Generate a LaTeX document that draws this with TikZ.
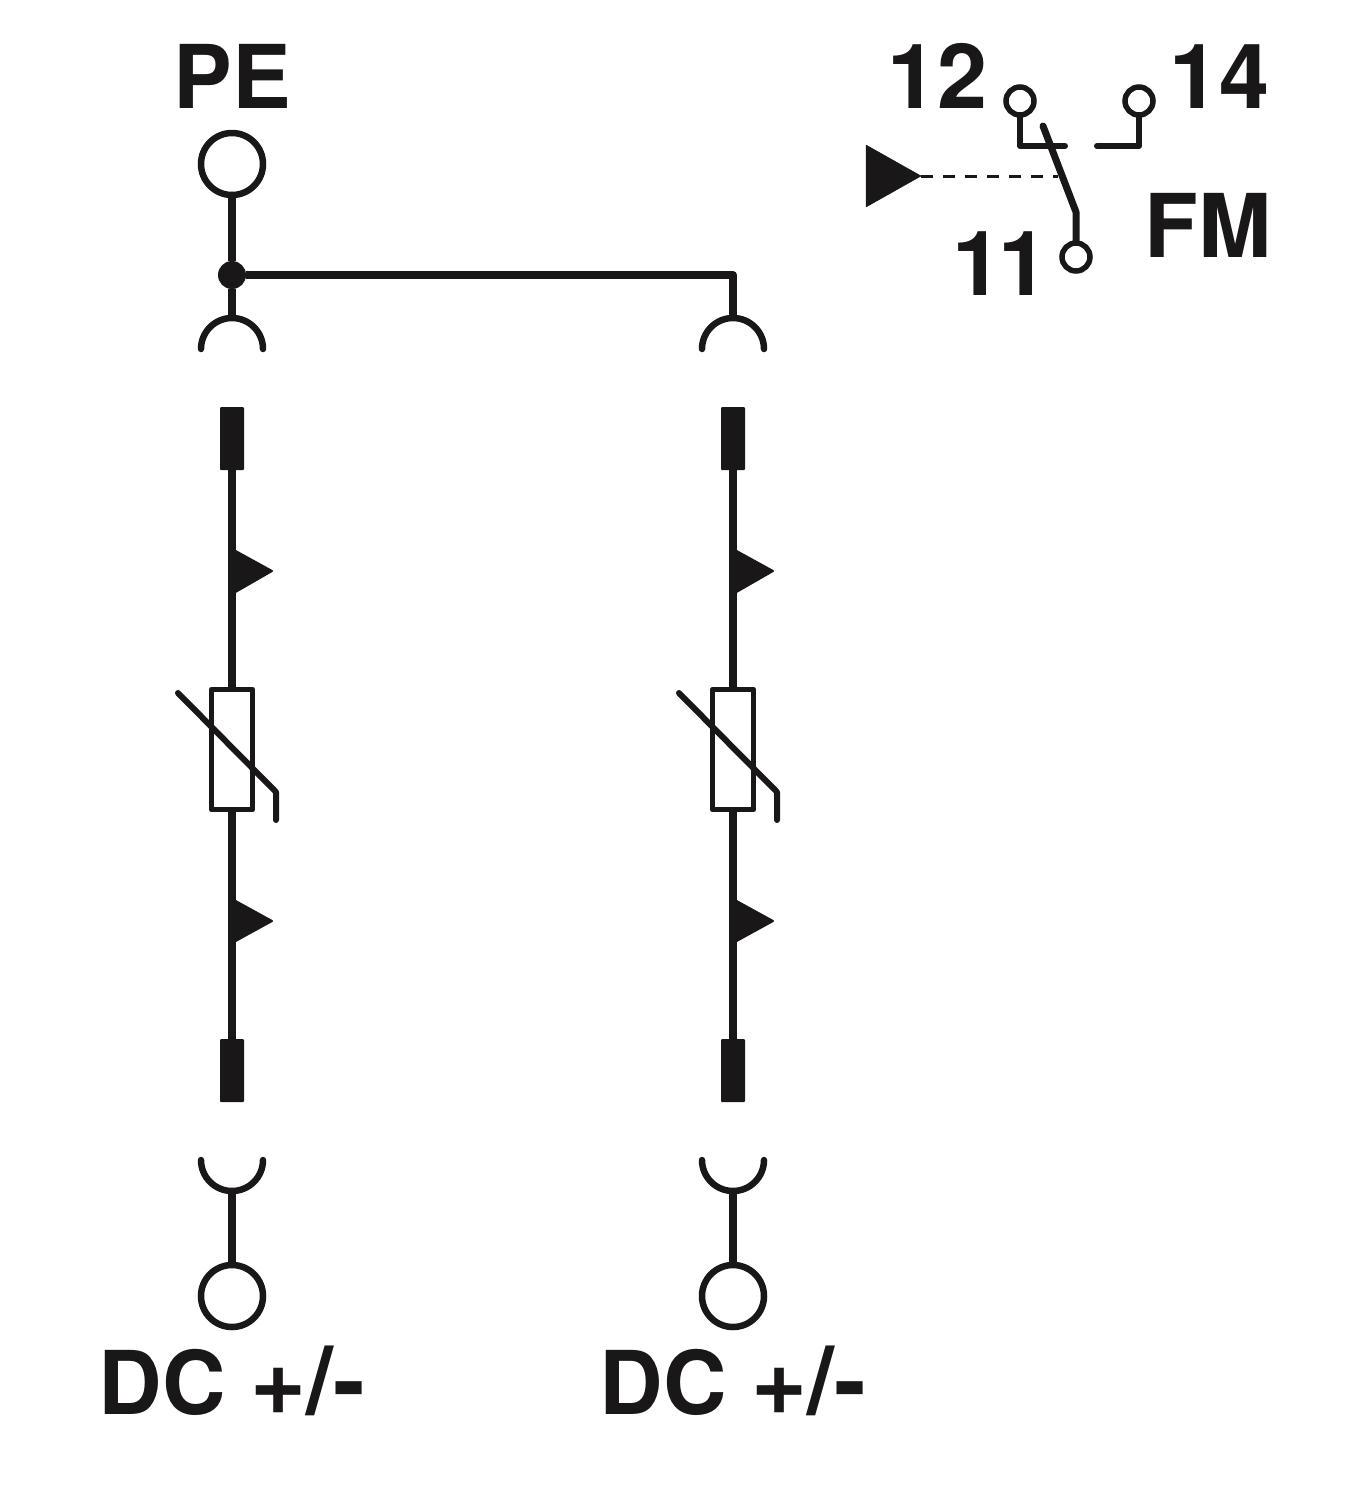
\documentclass[tikz,border=0pt]{standalone}
\usepackage{fontspec}
\setmainfont{TeX Gyre Heros}
\usepackage{tikz}

\definecolor{ink}{HTML}{1A1718}

\tikzset{
  wire/.style={ink, line width=8pt},
  cup/.style={ink, line width=6.5pt, line cap=round},
  thin wire/.style={ink, line width=6pt, line cap=round, line join=round},
  terminal/.style={draw=ink, fill=white, line width=6.5pt, circle, inner sep=0pt, minimum size=62pt},
  contact/.style={draw=ink, fill=white, line width=5.5pt, circle, inner sep=0pt, minimum size=28pt},
  plug/.style={fill=ink, rounded corners=1pt, inner sep=0pt, minimum width=24pt, minimum height=63pt},
  varistor/.style={draw=ink, fill=white, line width=5.5pt, line join=round, inner sep=0pt, minimum width=41pt, minimum height=120pt},
  joint/.style={fill=ink, circle, inner sep=0pt, minimum size=28pt},
  tip/.style={fill=ink, draw=ink, line width=2pt, line join=round},
  lbl/.style={ink, inner sep=0pt, anchor=base, font=\fontsize{88}{88}\selectfont\bfseries},
  num/.style={lbl, font=\fontsize{90}{90}\selectfont\bfseries}
}

\newcommand{\polarity}{DC {\fontsize{96}{96}\selectfont +/-}}

\begin{document}
\begin{tikzpicture}[x=1pt, y=-1pt]
\useasboundingbox (0,0) rectangle (1371,1500);

\node[terminal] (pe) at (232,164) {};
\node[joint] (j0) at (232,275) {};
\coordinate (c0) at (232,318);
\coordinate (c1) at (733,318);
\coordinate (e0) at (733,275);

\node[plug] (p0) at (232,438.5) {};
\node[plug] (p1) at (733,438.5) {};
\node[plug] (q0) at (232,1070.5) {};
\node[plug] (q1) at (733,1070.5) {};

\node[varistor] (v0) at (232,749.5) {};
\node[varistor] (v1) at (733,749.5) {};

\coordinate (d0) at (232,1191);
\coordinate (d1) at (733,1191);
\node[terminal] (t0) at (232,1296) {};
\node[terminal] (t1) at (733,1296) {};

% feed
\draw[wire] (pe) -- (j0);
\draw[wire] (j0) -- (c0);
\draw[wire, line join=round] (j0) -- (e0) -- (c1);

% cups
\draw[cup] (201,349) arc[start angle=180, end angle=0, radius=31pt];
\draw[cup] (702,349) arc[start angle=180, end angle=0, radius=31pt];
\draw[cup] (201,1160) arc[start angle=180, end angle=360, radius=31pt];
\draw[cup] (702,1160) arc[start angle=180, end angle=360, radius=31pt];

% legs
\draw[wire] (p0) -- (v0);
\draw[wire] (v0) -- (q0);
\draw[wire] (p1) -- (v1);
\draw[wire] (v1) -- (q1);
\draw[wire] (d0) -- (t0);
\draw[wire] (d1) -- (t1);

% arrows on the legs
\fill[tip] (232,549) -- (272,571) -- (232,594) -- cycle;
\fill[tip] (232,899) -- (272,921) -- (232,943) -- cycle;
\fill[tip] (733,549) -- (773,571) -- (733,594) -- cycle;
\fill[tip] (733,899) -- (773,921) -- (733,943) -- cycle;

% slashes
\draw[thin wire] (178,693) -- (276,792) -- (276,820);
\draw[thin wire] (679,693) -- (777,792) -- (777,820);

% contact
\node[contact] (k12) at (1020,101) {};
\node[contact] (k14) at (1139,101) {};
\node[contact] (k11) at (1076,257) {};
\coordinate (s0) at (1043,126);
\coordinate (s1) at (1076,212);
\coordinate (a0) at (1065,146);
\coordinate (a1) at (1097,146);
\coordinate (h0) at (1058,176);
\fill[tip, line width=0.5pt] (866,145) -- (921,176) -- (866,207) -- cycle;
\coordinate (h1) at (921,176);
\draw[thin wire] (k12) -- (1020,146) -- (a0);
\draw[thin wire] (a1) -- (1139,146) -- (k14);
\draw[thin wire, line width=7pt] (s0) -- (s1) -- (k11);
\draw[ink, line width=3pt, dash pattern=on 12pt off 10pt] (h1) -- (h0);

% labels
\node[lbl] (lpe) at (232,108) {PE};
\node[num] (l12) at (937.5,108) {12};
\node[num] (l14) at (1219.5,108) {14};
\node[lbl] (lfm) at (1208,257) {FM};
\node[num] (l11) at (1000.5,295) {1\kern-5pt 1};
\node[lbl] (ld0) at (232,1414) {\polarity};
\node[lbl] (ld1) at (733,1414) {\polarity};

\end{tikzpicture}
\end{document}
